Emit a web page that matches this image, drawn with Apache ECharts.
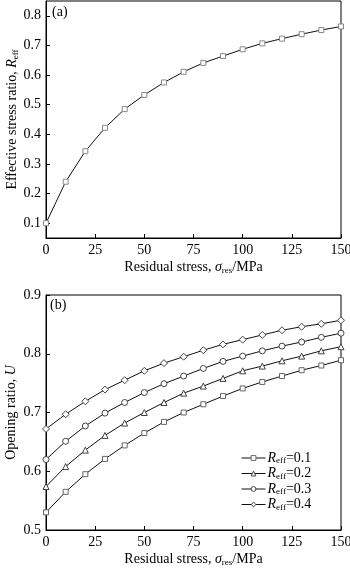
<!DOCTYPE html>
<html>
<head>
<meta charset="utf-8">
<script src="https://cdn.jsdelivr.net/npm/echarts@6/dist/echarts.min.js"></script>
<style>
html, body { margin: 0; padding: 0; background: #fff; }
#chart { width: 350px; height: 569px; }
</style>
</head>
<body>
<div id="chart"></div>
<script>
// Residual stress levels (MPa)
const stress = [0, 10, 20, 30, 40, 50, 60, 70, 80, 90, 100, 110, 120, 130, 140, 150];

// (a) effective stress ratio
const effectiveRatio = [0.100, 0.240, 0.343, 0.422, 0.485, 0.533, 0.575, 0.611, 0.641, 0.664, 0.687, 0.707, 0.723, 0.738, 0.752, 0.764];

// (b) opening ratio for each effective stress ratio
const openingR01 = [0.530, 0.565, 0.595, 0.621, 0.644, 0.665, 0.684, 0.700, 0.714, 0.728, 0.741, 0.752, 0.762, 0.772, 0.780, 0.789];
const openingR02 = [0.574, 0.608, 0.636, 0.661, 0.682, 0.700, 0.717, 0.733, 0.745, 0.758, 0.771, 0.779, 0.788, 0.796, 0.805, 0.812];
const openingR03 = [0.620, 0.651, 0.677, 0.699, 0.717, 0.734, 0.749, 0.762, 0.775, 0.787, 0.796, 0.805, 0.813, 0.820, 0.828, 0.835];
const openingR04 = [0.672, 0.697, 0.719, 0.739, 0.755, 0.771, 0.784, 0.795, 0.806, 0.816, 0.824, 0.832, 0.840, 0.846, 0.851, 0.857];

const reffLevels = ['0.1', '0.2', '0.3', '0.4'];
const reffTicks = [0.1, 0.2, 0.3, 0.4, 0.5, 0.6, 0.7, 0.8];

const FONT = '"Liberation Serif", "Times New Roman", serif';

const pairs = vals => stress.map((s, i) => [s, vals[i]]);

const subRich = {
  n: { fontFamily: FONT, fontSize: 14, color: '#000' },
  i: { fontFamily: FONT, fontSize: 14, fontStyle: 'italic', color: '#000' },
  s: { fontFamily: FONT, fontSize: 9, color: '#000', verticalAlign: 'bottom', padding: [6, 0, 0, 0] }
};

function xAxisFor(gridIndex) {
  return {
    type: 'value', gridIndex, min: 0, max: 150, interval: 25,
    name: '{n|Residual stress, }{i|σ}{s|res}{n|/MPa}',
    nameLocation: 'middle', nameGap: 22, nameMoveOverlap: false,
    nameTextStyle: { rich: subRich },
    axisLine: { show: true, lineStyle: { color: '#000', width: 1 } },
    axisTick: { show: true, inside: true, length: 4, lineStyle: { color: '#000' } },
    axisLabel: { fontFamily: FONT, fontSize: 14, color: '#000', margin: 5 },
    splitLine: { show: false }
  };
}

const lineSeries = (name, data, symbol, size, xi, yi, stroke) => ({
  name, type: 'line', xAxisIndex: xi, yAxisIndex: yi,
  data: pairs(data), symbol, symbolSize: size, showAllSymbol: true,
  lineStyle: { color: '#111', width: 1 },
  itemStyle: { color: '#fff', borderColor: stroke, borderWidth: 1 },
  emphasis: { disabled: true },
  animation: false
});

const chart = echarts.init(document.getElementById('chart'), null, { renderer: 'canvas' });

chart.setOption({
  animation: false,
  backgroundColor: '#fff',
  grid: [
    { left: 46, top: 1, width: 295, height: 237, show: true, borderColor: '#000', borderWidth: 1, containLabel: false, outerBoundsMode: 'none' },
    { left: 46, top: 295, width: 295, height: 235, show: true, borderColor: '#000', borderWidth: 1, containLabel: false, outerBoundsMode: 'none' }
  ],
  xAxis: [xAxisFor(0), xAxisFor(1)],
  yAxis: [
    {
      type: 'value', gridIndex: 0, min: 0.05, max: 0.85,
      name: '{n|Effective stress ratio, }{i|R}{s|eff}',
      nameLocation: 'middle', nameGap: 26, nameMoveOverlap: false,
      nameTextStyle: { rich: subRich },
      axisLine: { show: true, lineStyle: { color: '#000', width: 1 } },
      axisTick: { show: true, inside: true, length: 4, customValues: reffTicks, lineStyle: { color: '#000' } },
      axisLabel: { fontFamily: FONT, fontSize: 14, color: '#000', margin: 5, customValues: reffTicks, formatter: v => v.toFixed(1) },
      splitLine: { show: false }
    },
    {
      type: 'value', gridIndex: 1, min: 0.5, max: 0.9, interval: 0.1,
      name: '{n|Opening ratio, }{i|U}',
      nameLocation: 'middle', nameGap: 28, nameMoveOverlap: false,
      nameTextStyle: { rich: subRich },
      axisLine: { show: true, lineStyle: { color: '#000', width: 1 } },
      axisTick: { show: true, inside: true, length: 4, lineStyle: { color: '#000' } },
      axisLabel: { fontFamily: FONT, fontSize: 14, color: '#000', margin: 5, formatter: v => v.toFixed(1) },
      splitLine: { show: false }
    }
  ],
  legend: {
    orient: 'vertical', left: 236, top: 446,
    itemWidth: 24, itemHeight: 6, itemGap: 1,
    data: reffLevels,
    formatter: name => '{i|R}{s|eff}{n|=' + name + '}',
    lineStyle: { width: 1 },
    itemStyle: { borderWidth: 1 },
    textStyle: { rich: subRich, padding: [0, 0, 0, -3] },
    selectedMode: false
  },
  graphic: [
    { type: 'text', left: 52, top: 5, style: { text: '(a)', font: '14px ' + FONT, fill: '#000' } },
    { type: 'text', left: 50, top: 298, style: { text: '(b)', font: '14px ' + FONT, fill: '#000' } }
  ],
  series: [
    lineSeries('a', effectiveRatio, 'rect', 5, 0, 0, '#888'),
    lineSeries(reffLevels[0], openingR01, 'rect', 5, 1, 1, '#666'),
    lineSeries(reffLevels[1], openingR02, 'triangle', 6, 1, 1, '#444'),
    lineSeries(reffLevels[2], openingR03, 'circle', 6, 1, 1, '#444'),
    lineSeries(reffLevels[3], openingR04, 'diamond', 7, 1, 1, '#444')
  ]
});
</script>
</body>
</html>
